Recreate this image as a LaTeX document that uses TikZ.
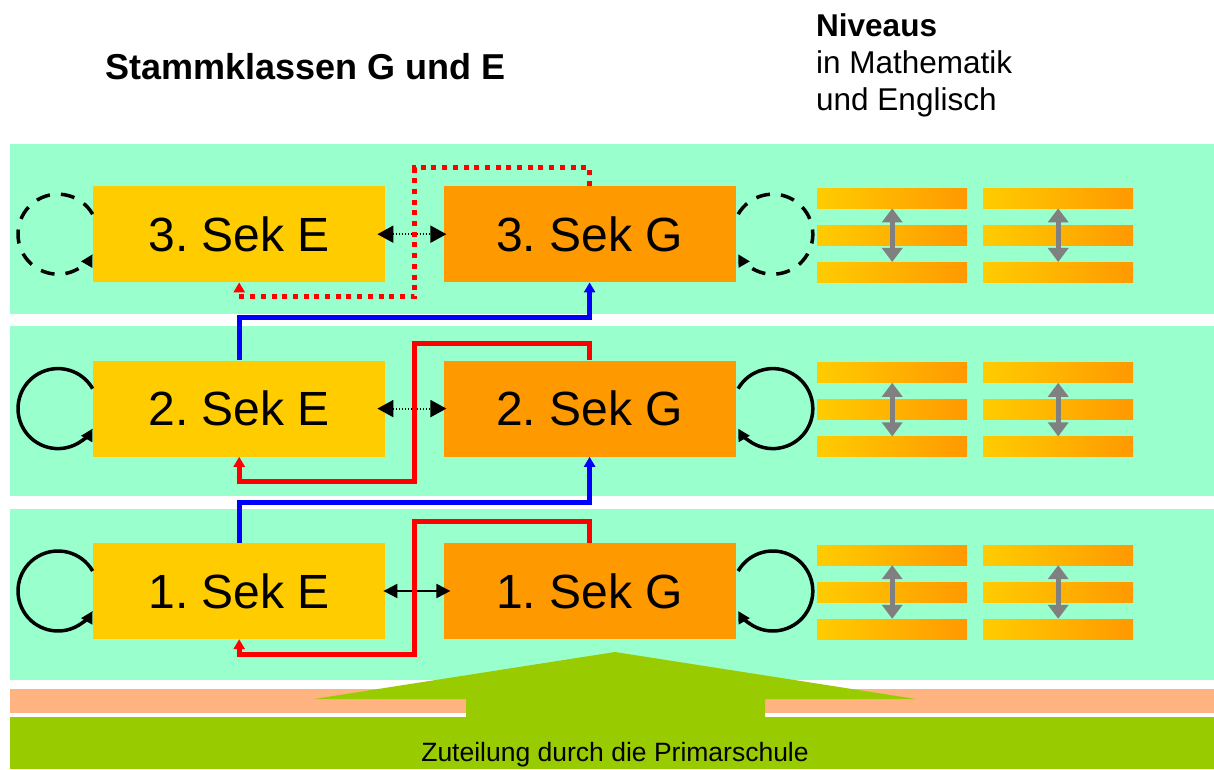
\documentclass[tikz,border=0pt]{standalone}
\usepackage{fontspec}
\setmainfont{Liberation Sans}
\usetikzlibrary{arrows.meta,positioning,calc}
\definecolor{mintband}{HTML}{99FFCC}
\definecolor{secyellow}{HTML}{FFCC00}
\definecolor{secorange}{HTML}{FF9900}
\definecolor{salmonband}{HTML}{FFB380}
\definecolor{primgreen}{HTML}{99CC00}
\definecolor{levelgray}{HTML}{808080}
\tikzset{
  sekbox/.style={inner sep=0pt, minimum width=292pt, minimum height=96pt, font=\fontsize{48}{56}\selectfont},
  ebox/.style={sekbox, fill=secyellow},
  gbox/.style={sekbox, fill=secorange},
  levelbar/.style={shade, left color=secyellow, right color=secorange, draw=none, inner sep=0pt, minimum width=150pt, minimum height=20pt, anchor=north west},
  levelarrow/.style={{Triangle[length=14pt,width=20pt]}-{Triangle[length=14pt,width=20pt]}, line width=5pt, draw=levelgray},
  swapdot/.style={{Triangle[length=16pt,width=17pt]}-{Triangle[length=16pt,width=17pt]}, line width=2pt, dash pattern=on 1.5pt off 1.5pt},
  swapline/.style={{Triangle[length=14pt,width=14pt]}-{Triangle[length=14pt,width=14pt]}, line width=2pt},
  redpath/.style={-{Triangle[length=10pt,width=11pt]}, line width=5pt, draw=red},
  reddots/.style={dash pattern=on 5pt off 5.7pt},
  bluepath/.style={-{Triangle[length=10pt,width=11pt]}, line width=5pt, draw=blue},
  loopline/.style={-{Triangle[length=12pt,width=12pt]}, line width=3.5pt},
  loopdash/.style={dash pattern=on 14pt off 11pt},
  band/.style={fill=mintband}
}

\begin{document}
\frenchspacing
\begin{tikzpicture}[x=1pt,y=1pt]
  \useasboundingbox (0,0) rectangle (1214,769);
  \fill[white] (0,0) rectangle (1214,769);
  % Baender
  \fill[band] (10,455) rectangle (1214,625);
  \fill[band] (10,273) rectangle (1214,443);
  \fill[band] (10,89) rectangle (1214,260);
  \fill[salmonband] (10,56) rectangle (1214,80);
  \fill[primgreen] (10,0) rectangle (1214,52);
  \fill[primgreen] (615,117) -- (916,70) -- (765,70) -- (765,52) -- (466,52) -- (466,70) -- (314,70) -- cycle;

  \node[anchor=base west, inner sep=0pt, font=\bfseries\fontsize{36}{43}\selectfont] (title) at (105,689) {Stammklassen G und E};
  \node[anchor=north west, inner sep=0pt, align=left, font=\fontsize{31.5}{37}\selectfont] (niveaus) at (816,756) {\textbf{Niveaus}\\in Mathematik\\und Englisch};
  \node[anchor=base, inner sep=0pt, font=\fontsize{26.5}{30}\selectfont] (zuteilung) at (615,8) {Zuteilung durch die Primarschule};

  % Sek-Klassen
  \node[ebox, anchor=north west] (e3) at (93,583) {3. Sek E};
  \node[gbox, right=58pt of e3] (g3) {3. Sek G};
  \node[ebox, below=78pt of e3] (e2) {2. Sek E};
  \node[gbox, right=58pt of e2] (g2) {2. Sek G};
  \node[ebox, below=86pt of e2] (e1) {1. Sek E};
  \node[gbox, right=58pt of e1] (g1) {1. Sek G};

  % Niveaus
  \foreach \n in {1,2,3}{
    \foreach \side/\dx in {a/724, b/890}{
      \foreach \k in {0,1,2}{
        \node[levelbar] (bar\n\side\k) at ($(e\n.north west)+(\dx,-2-37*\k)$) {};
      }
      \draw[levelarrow] (bar\n\side0.south) -- (bar\n\side2.north);
    }
  }

  % Schleifen
  \foreach \n/\pat in {1/solid,2/solid,3/loopdash}{
    \draw[loopline,\pat] ($(e\n.west)+(-35,0)$) ++(30:40) arc[start angle=30,end angle=330,radius=40];
    \draw[loopline,\pat] ($(g\n.east)+(37,0)$) ++(150:40) arc[start angle=150,end angle=-150,radius=40];
  }

  % Wechsel
  \draw[swapdot, shorten <=-8pt, shorten >=-3pt] (e3) -- (g3);
  \draw[swapdot, shorten <=-8pt, shorten >=-3pt] (e2) -- (g2);
  \draw[swapline, shorten <=-2pt, shorten >=-7pt] (e1) -- (g1);

  \draw[redpath, reddots] (g3.north) -- ++(0,18) -| ++(-175,-129) -| (e3.south);
  \draw[redpath] (g2.north) -- ++(0,17) -| ++(-175,-138) -| (e2.south);
  \draw[redpath] (g1.north) -- ++(0,21) -| ++(-175,-133) -| (e1.south);
  \draw[bluepath] (e2.north) -- ++(0,43) -| (g3.south);
  \draw[bluepath] (e1.north) -- ++(0,40) -| (g2.south);
\end{tikzpicture}
\end{document}
